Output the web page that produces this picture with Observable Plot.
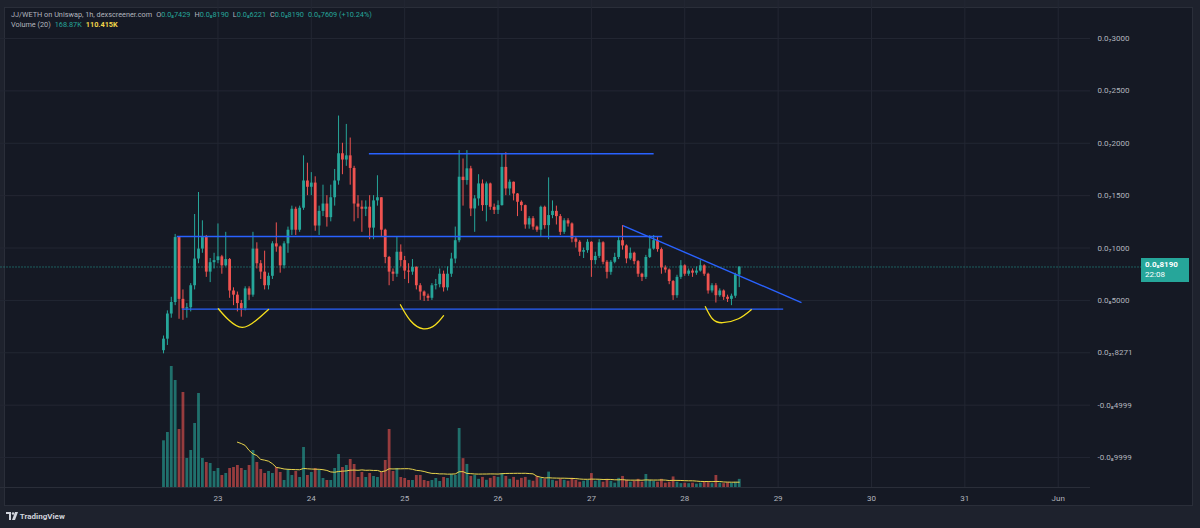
<!DOCTYPE html>
<html><head><meta charset="utf-8">
<script src="https://cdn.jsdelivr.net/npm/d3@7"></script>
<script src="https://cdn.jsdelivr.net/npm/@observablehq/plot@0.6"></script>
<style>
html,body{margin:0;padding:0;background:#1e222d;}
#wrap{position:relative;width:1200px;height:528px;overflow:hidden;background:#1e222d;font-family:Roboto,"DejaVu Sans",sans-serif;}
#pane{position:absolute;left:4px;top:7px;width:1189px;height:499px;background:#151924;border:1px solid #2a2e39;box-sizing:border-box;}
.layer{position:absolute;left:0;top:0;}
#hdr{position:absolute;left:11px;top:10px;font-size:7.3px;line-height:10px;color:#b2b5be;white-space:nowrap;}
#hdr span{margin-left:4px;}
#hdr .g{color:#26a69a;}
#hdr .y{color:#f0d64a;font-weight:700;}
#hdr .k{margin-left:0;}
#box{position:absolute;left:1141px;width:48px;height:24px;background:#26a69a;color:#fff;font-size:8px;line-height:10px;padding:2px 0 0 4px;box-sizing:border-box;}
#box b{font-weight:700;}
#logo{position:absolute;left:6px;top:512px;font-size:8px;font-weight:700;color:#d1d4dc;}
</style></head>
<body>
<div id="wrap">
  <div id="pane"></div>
  <div id="price" class="layer"></div>
  <div id="volume" class="layer"></div>
  <div id="hdr"></div>
  <div id="box"></div>
  <div id="logo"></div>
</div>
<script>
// ---------- data (price unit = 1e-10 WETH) ----------
const firstOpen = 2;
const closes = [13,37,48,110,51,42,43,64,89.5,99,110,77,86,88,91.6,83,89,59,55,47,
 42,61,55,99,85,77,64,73,104,101,83,104,117,137,117,138,164,158,162,121,
 135,142,129,148,164,190,184,188,176,142,139,137,139,119,145,148,117,91,77,75,
 96,88,78,77,81.6,64,58,54,52,64,65,75,62,75,89.5,107,167.6,164.4,175.6,137.3,
 146.9,161.2,140.5,161.2,138.9,136,140.5,177,156.4,162.8,151.6,143.7,140.5,122,128,120,117,138.9,121.4,131,
 135,130,115,126,123,108.6,105.5,96,97.5,105.5,88,92,105,86.4,76.8,86.4,91,107,102,89.6,
 95,87,75,72,91,99,107,98.5,81,79,68,54.5,72,83,75,78,76,78,83,75,
 59,64,54.5,59,53,51,54,74.29,81.9];
const highs = [16,40,53,113,110,60,47,66,132,153,126,112,90,95,123,93,115,90,62,58,
 50,63,63,115,105,88,97,76,106,124,102,106,120,140,139,140,188,181,172,168,
 140,160,150,160,175,226,200,218,205,178,150,145,145,150,150,169,148,118,92,80,
 111,103,92,85,89,82,66,59,56,66,70,80,78,82,95,120,193,185,193,178,
 150,170,165,163,162,142,145,190,191,165,163,152,145,141,130,130,121,140,140,167,
 145,140,132,128,128,124,110,107,100,108,106,96,108,106,88,88,95,110,121.4,103,
 100,96,88,76,93,111.8,112,110,100,83,80,69,74,88,84,80,80,82,88,84,
 76,66,66,61,60,55,56,76,81.9];
const lows = [-1,7,33,45,32,31,33,39,60,85,95,72,67,80,85,75,82,52,45,39,
 34,40,50,53,80,70,60,60,70,96,76,80,95,112,112,115,136,150,150,116,
 112,130,120,125,140,160,170,178,160,125,128,115,130,108,108,140,110,85,64,68,
 72,82,70,66,74,60,50,49,49,50,60,62,58,59,72,85,105,140,160,130,
 115,140,135,125,136,132,132,140,150,150,145,130,135,118,118,117,115,110,118,108,
 128,122,112,113,120,105,100,92,90,95,72,84,90,84,70.5,74,85,89,98,85,
 88,84,72,68,70,90,98,96,75,76,65,50,52,70,73,73,72,74,77,73,
 56,57,47.5,53,50,48,45,52,62.21];
const volumes = [971,1144,2517,2226,1206,1976,603,770,1331,1955,603,520,499,333,395,250,291,395,416,458,
 395,354,458,770,520,374,291,333,291,416,312,146,374,250,333,208,832,250,312,395,
 354,187,146,146,395,686,416,458,582,478,208,312,208,291,229,208,312,562,1206,333,
 395,208,187,146,146,250,250,146,125,146,187,125,208,187,270,250,1227,600,480,230,
 250,170,210,150,190,230,210,290,230,170,210,150,190,210,150,130,230,190,170,320,
 150,130,170,150,130,190,150,110,130,150,290,130,150,110,170,130,90,190,230,150,
 110,130,170,110,270,150,130,110,170,90,110,220,110,80,90,80,90,70,90,110,
 100,80,250,90,80,100,90,110,168.87];

const yTicks  = [300,250,200,150,100,50,0,-50,-100];
const yLabels = ["0.0₇3000","0.0₇2500","0.0₇2000","0.0₇1500","0.0₇1000","0.0₈5000","0.0₂₁8271","-0.0₈4999","-0.0₈9999"];
const dayLabels = ["23","24","25","26","27","28","29","30","31","Jun"];
const dayDates  = ["2024-05-23","2024-05-24","2024-05-25","2024-05-26","2024-05-27","2024-05-28","2024-05-29","2024-05-30","2024-05-31","2024-06-01"];

// legend texts as shown on the chart
const headerTitle = "JJ/WETH on Uniswap, 1h, dexscreener.com";
const ohlcKeys   = ["O","H","L","C"];
const ohlcTexts  = ["0.0₈7429","0.0₈8190","0.0₈6221","0.0₈8190"];
const changeText = "0.0₉7609 (+10.24%)";
const volumeTitle = "Volume (20)";
const volumeTexts = ["168.87K","110.415K"];
const lastPriceText = "0.0₈8190";
const countdownText = "22:08";

// drawn lines: hour index from first candle, price
const lineStartH = [52.8, 3.4, 4.7, 118.1];
const lineEndH   = [126, 128.2, 159.3, 164];
const lineStartV = [190, 111, 41.7, 121.4];
const lineEndV   = [190, 111, 41.7, 47.9];
// hand-drawn yellow arcs
const arc1H = [14.1,16.7,20.2,23.7,27],   arc1V = [42,31.5,24.2,30.6,41.4];
const arc2H = [60.9,63.5,66.8,69.9,72],   arc2V = [45.9,30.6,22.9,26.8,35.4];
const arc3H = [139.3,141.1,143.7,147.8,151.1], arc3V = [44,32.5,28.7,32.5,41.1];

// ---------- build ----------
const G = "#26a69a", R = "#ef5350";
const HOUR = 3600e3, t0 = Date.UTC(2024,4,22,10);
const toDate = h => new Date(t0 + h*HOUR);
const candles = closes.map((c,i)=>({
  date: toDate(i), open: i ? closes[i-1] : firstOpen, close: c,
  high: highs[i], low: lows[i], vol: volumes[i]
}));
candles.forEach(d => d.up = d.close >= d.open);
const last = candles[candles.length-1];
const xDomain = [toDate(-41.9), toDate(238.3)];
const dayTicks = dayDates.map(s => new Date(s + "T00:00:00Z"));
const links = lineStartH.map((h,i)=>({x1: toDate(h), x2: toDate(lineEndH[i]), y1: lineStartV[i], y2: lineEndV[i]}));
const arcs = [[arc1H,arc1V],[arc2H,arc2V],[arc3H,arc3V]].flatMap(([hs,vs],k)=>hs.map((h,i)=>({arc:k, date: toDate(h), v: vs[i]})));

const common = {width:1200, height:505, marginLeft:0, marginRight:110, marginTop:0, marginBottom:18,
  style:{background:"transparent", color:"#b2b5be", fontSize:"8px", fontFamily:"Roboto, 'DejaVu Sans', sans-serif"}};

const price = Plot.plot({
  ...common,
  x:{type:"utc", domain:xDomain},
  y:{domain:[-128.6, 336.3]},
  marks:[
    Plot.gridY(yTicks, {stroke:"#232733", strokeOpacity:1}),
    Plot.gridX(dayTicks, {stroke:"#232733", strokeOpacity:1}),
    Plot.ruleY([0], {y: () => -128.6, stroke:"#2a2e39"}),
    Plot.axisY(yTicks, {anchor:"right", tickSize:0, tickPadding:7, fill:"#b2b5be",
      tickFormat: d => yLabels[yTicks.indexOf(d)]}),
    Plot.axisX(dayTicks, {anchor:"bottom", tickSize:0, tickPadding:8, fill:"#b2b5be",
      tickFormat: d => dayLabels[dayTicks.findIndex(t => +t === +d)]}),
    Plot.link([last], {x1: () => xDomain[0], x2: () => toDate(251.4), y1:"close", y2:"close",
      stroke:G, strokeDasharray:"1,2", strokeWidth:1}),
    Plot.ruleX(candles, {x:"date", y1:"low", y2:"high", stroke: d => d.up ? G : R, strokeWidth:1}),
    Plot.ruleX(candles, {x:"date", y1:"open", y2:"close", stroke: d => d.up ? G : R, strokeWidth:2.8}),
    Plot.link(links, {x1:"x1", x2:"x2", y1:"y1", y2:"y2", stroke:"#2962ff", strokeWidth:1.4}),
    Plot.line(arcs, {x:"date", y:"v", z:"arc", curve:"natural", stroke:"#f7e01c", strokeWidth:1.3})
  ]
});
document.getElementById("price").appendChild(price);

const volume = Plot.plot({
  ...common,
  x:{type:"utc", domain:xDomain, axis:null},
  y:{domain:[0, 10130], axis:null},
  marks:[
    Plot.ruleX(candles, {x:"date", y1:0, y2:"vol", stroke: d => d.up ? G : R, strokeOpacity: d => d.up ? 0.62 : 0.6, strokeWidth:2.8}),
    Plot.lineY(candles, Plot.windowY({k:20, anchor:"end", strict:true}, {x:"date", y:"vol", stroke:"#e8d44d", strokeWidth:1}))
  ]
});
document.getElementById("volume").appendChild(volume);

// header
document.getElementById("hdr").innerHTML =
  `<span class="k">${headerTitle}</span>` +
  ohlcKeys.map((k,i)=>`<span>${k}<b class="g" style="font-weight:400">${ohlcTexts[i]}</b></span>`).join("") +
  `<span class="g">${changeText}</span><br>` +
  `<span class="k">${volumeTitle}</span><span class="g">${volumeTexts[0]}</span><span class="y">${volumeTexts[1]}</span>`;

// last price label
const yPix = price.scale("y").apply(last.close);
const box = document.getElementById("box");
box.style.top = (yPix - 8) + "px";
box.innerHTML = `<b>${lastPriceText}</b><br>${countdownText}`;

document.getElementById("logo").innerHTML =
  `<svg width="12" height="8" viewBox="0 0 12 8" style="vertical-align:-1px"><path d="M0 0h5v8H3V2H0z M6 8l3-8h3l-3 8z" fill="#d1d4dc"/><circle cx="7" cy="1.5" r="1.2" fill="#d1d4dc"/></svg> TradingView`;
</script>
</body></html>
